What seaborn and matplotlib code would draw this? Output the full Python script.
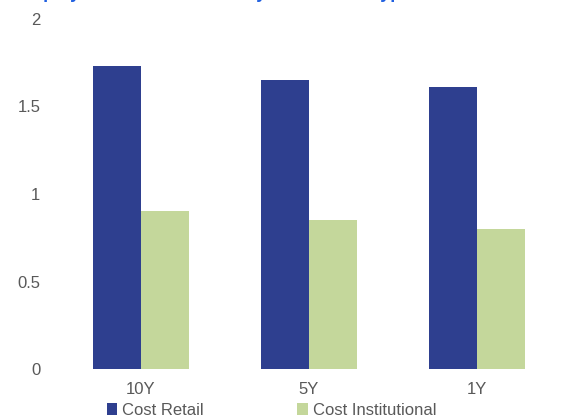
import pandas as pd
import seaborn as sns
import matplotlib.pyplot as plt

# data
periods = ['10Y', '5Y', '1Y']
cost_retail = [1.73, 1.65, 1.61]
cost_institutional = [0.90, 0.85, 0.80]
series_names = ['Cost Retail', 'Cost Institutional']
colors = ['#2E3F8F', '#C4D79B']

df = pd.DataFrame({
    'Period': periods * 2,
    'Cost': cost_retail + cost_institutional,
    'Series': [series_names[0]] * 3 + [series_names[1]] * 3,
})

sns.set_style('white')
plt.rcParams['font.family'] = ['Liberation Sans', 'DejaVu Sans']

fig = plt.figure(figsize=(5.69, 4.19), dpi=100)
ax = fig.add_axes([57 / 569, 1 - 369 / 419, 504 / 569, 350 / 419])

sns.barplot(data=df, x='Period', y='Cost', hue='Series', palette=colors,
            width=0.57, saturation=1, linewidth=0, ax=ax, legend=True)

ax.set_ylim(0, 2)
ax.set_yticks([0, 0.5, 1, 1.5, 2])
ax.set_yticklabels(['0', '0.5', '1', '1.5', '2'])
ax.set_xlabel('')
ax.set_ylabel('')
ax.tick_params(axis='both', length=0, labelsize=12, colors='#595959')
ax.tick_params(axis='y', pad=12)
ax.tick_params(axis='x', pad=9)
for s in ax.spines.values():
    s.set_visible(False)

handles, labels = ax.get_legend_handles_labels()
ax.legend(handles, labels, loc='center', bbox_to_anchor=(0.426, -0.118),
          ncol=2, frameon=False, fontsize=12, handlelength=0.65,
          handleheight=0.65, handletextpad=0.3, columnspacing=5.6,
          labelcolor='#595959')

# title cut off at the top edge of the image, only descenders visible
fig.text(25 / 569, 1 + 2 / 419, 'Equity mutual fund costs by share class type',
         color='#1F5FE0', fontsize=13, fontweight='bold', va='baseline', ha='left')

fig.savefig('out.png', dpi=100)
